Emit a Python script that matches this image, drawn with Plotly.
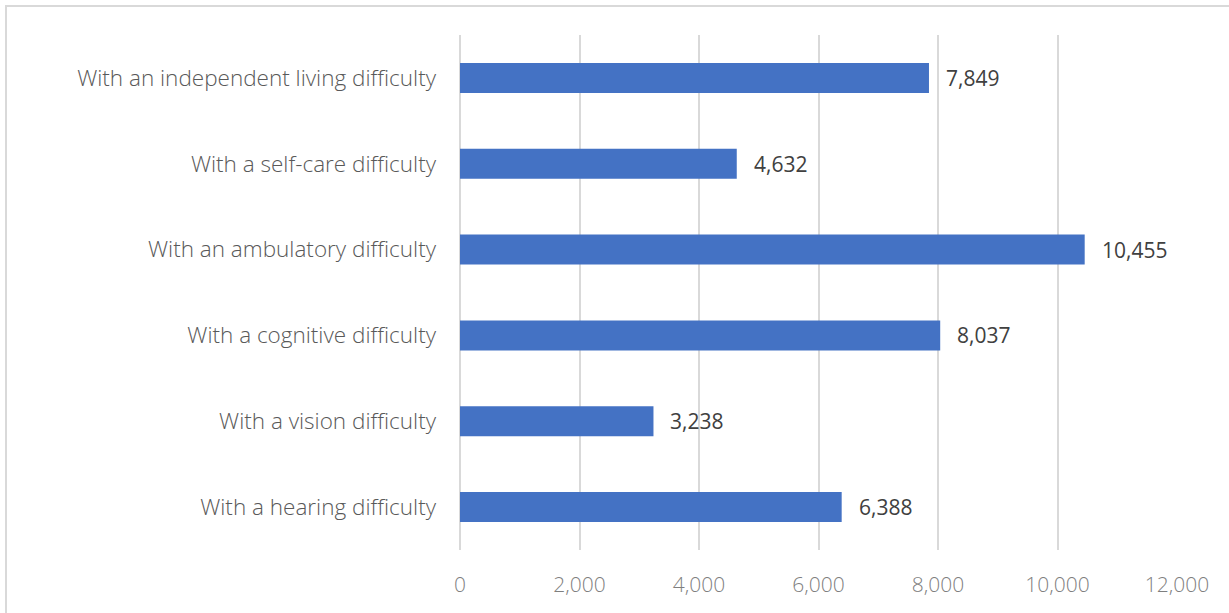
import plotly.graph_objects as go

categories = [
    "With a hearing difficulty",
    "With a vision difficulty",
    "With a cognitive difficulty",
    "With an ambulatory difficulty",
    "With a self-care difficulty",
    "With an independent living difficulty",
]
values = [6388, 3238, 8037, 10455, 4632, 7849]
x_ticks = [0, 2000, 4000, 6000, 8000, 10000, 12000]

L, R, T, B = 460, 1229 - 1177, 35, 613 - 550
PW, PH = 1229 - L - R, 613 - T - B

fig = go.Figure()
fig.add_trace(go.Bar(
    y=categories, x=values, orientation="h",
    marker=dict(color="#4472C4", line=dict(width=0)),
    width=0.35,
    hoverinfo="x+y",
))

for c, v in zip(categories, values):
    fig.add_annotation(
        x=v, y=c, xref="x", yref="y", text=f"{v:,}",
        showarrow=False, xanchor="left", xshift=15,
        font=dict(family="Open Sans", size=21, color="#404040"),
    )

fig.update_layout(
    width=1229, height=613,
    margin=dict(l=L, r=R, t=T, b=B),
    paper_bgcolor="white", plot_bgcolor="white",
    showlegend=False,
    bargap=0.65,
    xaxis=dict(
        range=[0, 12000], tickvals=x_ticks,
        tickformat=",d",
        showgrid=True, gridcolor="#D9D9D9", gridwidth=2,
        zeroline=True, zerolinecolor="#D9D9D9", zerolinewidth=2,
        showline=False,
        tickfont=dict(family="Open Sans", size=21, color="#7F7F7F", weight=300),
        ticklabelstandoff=20,
    ),
    yaxis=dict(
        showgrid=False, showline=False,
        tickfont=dict(family="Open Sans", size=22.5, color="#595959", weight=300),
        ticklabelstandoff=23,
    ),
    shapes=[dict(
        type="rect", xref="paper", yref="paper",
        x0=(6 - L) / PW, x1=(1260 - L) / PW,
        y0=-0.3, y1=1 + (T - 6) / PH,
        line=dict(color="#D9D9D9", width=2), fillcolor="rgba(0,0,0,0)",
        layer="below",
    )],
)

fig.write_html(
    "out.html",
    config={"displayModeBar": False},
    post_script="document.body.style.margin='0';",
)
